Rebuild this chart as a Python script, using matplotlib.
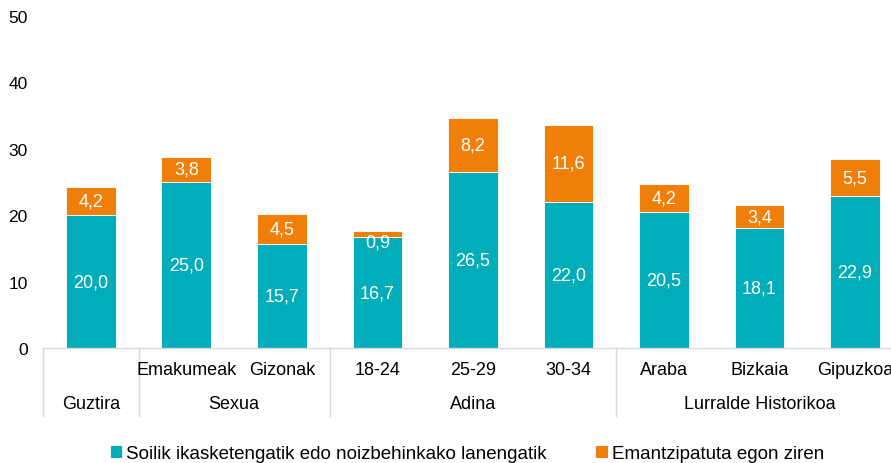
import matplotlib.pyplot as plt
import matplotlib.transforms as mtransforms
import numpy as np

plt.rcParams["font.family"] = ["Liberation Sans", "DejaVu Sans"]

# datuak
categories = ["Guztira", "Emakumeak", "Gizonak", "18-24", "25-29", "30-34",
              "Araba", "Bizkaia", "Gipuzkoa"]
studies = [20.0, 25.0, 15.7, 16.7, 26.5, 22.0, 20.5, 18.1, 22.9]
emancipated = [4.2, 3.8, 4.5, 0.9, 8.2, 11.6, 4.2, 3.4, 5.5]
level1_labels = ["", "Emakumeak", "Gizonak", "18-24", "25-29", "30-34",
                 "Araba", "Bizkaia", "Gipuzkoa"]
groups = [("Guztira", 0, 0), ("Sexua", 1, 2), ("Adina", 3, 5),
          ("Lurralde Historikoa", 6, 8)]
series_names = ["Soilik ikasketengatik edo noizbehinkako lanengatik",
                "Emantzipatuta egon ziren"]

TEAL = "#00ADB9"
ORANGE = "#F07F09"
GRID = "#D9D9D9"
FS = 13

fig = plt.figure(figsize=(8.91, 4.64), dpi=100)
ax = fig.add_axes([0.0483, 0.2478, 0.965, 0.7156])

x = np.arange(len(categories))
w = 0.52
b1 = ax.bar(x, studies, w, color=TEAL, edgecolor="white", linewidth=0.6,
            label=series_names[0])
b2 = ax.bar(x, emancipated, w, bottom=studies, color=ORANGE, edgecolor="white",
            linewidth=0.6, label=series_names[1])

fmt = lambda v: f"{v:.1f}".replace(".", ",")
for xi, s, e in zip(x, studies, emancipated):
    ax.text(xi, s / 2, fmt(s), ha="center", va="center", color="white", fontsize=FS)
    # segmentu txikietan etiketa beherago
    ye = s + e / 2 if e >= 2 else s + e - 1.6
    ax.text(xi, ye, fmt(e), ha="center", va="center", color="white", fontsize=FS)

ax.set_xlim(-0.5, len(categories) - 0.5)
ax.set_ylim(0, 50)
ax.set_yticks(range(0, 51, 10))
ax.tick_params(axis="y", length=0, pad=11, labelsize=12.5)
ax.set_xticks([])
for side in ["left", "right", "top"]:
    ax.spines[side].set_visible(False)
ax.spines["bottom"].set_color(GRID)
ax.spines["bottom"].set_linewidth(1)

# bi mailako ardatza
trans = mtransforms.blended_transform_factory(ax.transData, ax.transAxes)
for xi, lab in zip(x, level1_labels):
    ax.text(xi, -0.064, lab, transform=trans, ha="center", va="center", fontsize=FS)
for name, i0, i1 in groups:
    ax.text((i0 + i1) / 2, -0.168, name, transform=trans, ha="center", va="center",
            fontsize=FS)
for sep in [-0.5, 0.5, 2.5, 5.5]:
    ax.plot([sep, sep], [0, -0.205], transform=trans, color=GRID, linewidth=1,
            clip_on=False)

fig.legend(handles=[b1, b2], labels=series_names, loc="center",
           bbox_to_anchor=(0.524, 0.02), ncol=2, frameon=False, fontsize=13.5,
           handlelength=0.68, handleheight=0.68, handletextpad=0.2, columnspacing=2.6)

fig.savefig("out.png", dpi=100)
